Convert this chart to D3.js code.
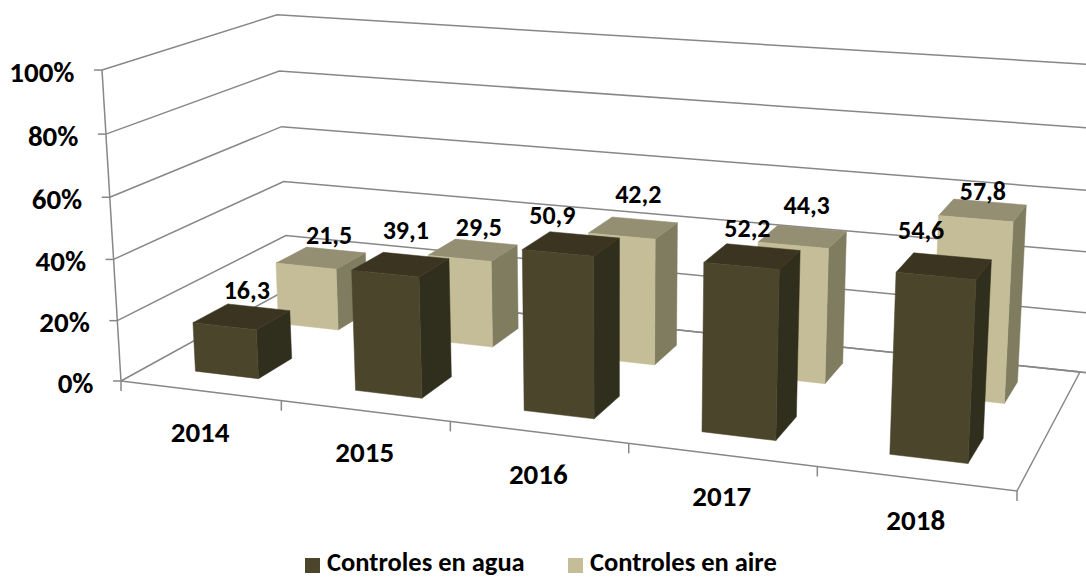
<!DOCTYPE html>
<html><head><meta charset="utf-8">
<script src="https://cdn.jsdelivr.net/npm/d3@7"></script>
<style>html,body{margin:0;padding:0;background:#fff}svg{display:block}text{font-family:Carlito,Lato,"Open Sans",sans-serif;font-weight:700;fill:#000}</style>
</head><body><svg id="c" width="1086" height="577"></svg>
<script>
const years = ["2014","2015","2016","2017","2018"];
const seriesNames = ["Controles en agua","Controles en aire"];
const agua = [16.3,39.1,50.9,52.2,54.6];
const aire = [21.5,29.5,42.2,44.3,57.8];
const yTicks = [0,20,40,60,80,100];
const fmt = v => String(v.toFixed(1)).replace(".",",");

// Camera calibration: floor corners and vertical vanishing point
const FL=[121,381],FR=[1017,491],BR=[1080,372],BL=[288,289],VP=[615,8470],S=-0.03702;
const dx1=FR[0]-BR[0],dx2=BL[0]-BR[0],sx=FL[0]-FR[0]+BR[0]-BL[0];
const dy1=FR[1]-BR[1],dy2=BL[1]-BR[1],sy=FL[1]-FR[1]+BR[1]-BL[1];
const D=dx1*dy2-dx2*dy1;
const G=(sx*dy2-dx2*sy)/D,H=(dx1*sy-sx*dy1)/D;
const A=FR[0]-FL[0]+G*FR[0],B=BL[0]-FL[0]+H*BL[0],C=FL[0];
const Dd=FR[1]-FL[1]+G*FR[1],E=BL[1]-FL[1]+H*BL[1],F=FL[1];
function proj(u,v,t){
  const k=t*S;
  const w=G*u+H*v+1+k;
  return [(A*u+B*v+C+k*VP[0])/w,(Dd*u+E*v+F+k*VP[1])/w];
}
const xScale=d3.scaleBand().domain(years).range([0,1]).paddingInner(0.6).paddingOuter(0.3);
const catScale=d3.scaleBand().domain(years).range([0,1]);
const depthScale=d3.scaleBand().domain(seriesNames).range([0,1]).paddingInner(0.6).paddingOuter(0.3);
const zScale=d3.scaleLinear().domain([0,100]).range([0,1]);
const line=d3.line();
const svg=d3.select("#c");
const gridColor="#878787";

// walls
const grid=svg.append("g").attr("fill","none").attr("stroke",gridColor).attr("stroke-width",1.5);
grid.selectAll("path.g").data(yTicks).join("path").attr("class","g")
  .attr("d",t=>{const z=zScale(t);return line([proj(0,0,z),proj(0,1,z),proj(1.02,1,z)]);});
grid.append("path").attr("d",line([proj(0,0,0),proj(0,0,1)]));
grid.append("path").attr("d",line([proj(0,0,0),proj(1,0,0),proj(1,1,0),proj(0,1,0)]));
grid.selectAll("path.yt").data(yTicks).join("path").attr("class","yt")
  .attr("d",t=>{const p=proj(0,0,zScale(t));return line([[p[0]-8,p[1]],p]);});
const xTicks=years.map(y=>catScale(y)).concat([1]);
grid.selectAll("path.xt").data(xTicks).join("path").attr("class","xt")
  .attr("d",u=>{const p=proj(u,0,0);return line([p,[p[0],p[1]+10]]);});

// bars
const palette={
 [seriesNames[0]]:{front:"#4b452c",top:"#3b3420",side:"#302e1c"},
 [seriesNames[1]]:{front:"#c4bd97",top:"#948f72",side:"#7f7c60"}
};
// hand placement of each value label relative to its bar top, as in the source chart
const aguaNudge=[[5,2],[5,-5],[-19,0],[-5,1],[-23,-7]];
const aireNudge=[[8,6],[6,6],[5,-5],[4,-3],[0,10]];
function bar(year,name,val,nudge){return {year,name,val,nudge};}
const barData=[
  ...years.map((y,i)=>bar(y,seriesNames[1],aire[i],aireNudge[i])),
  ...years.map((y,i)=>bar(y,seriesNames[0],agua[i],aguaNudge[i]))
];
const gb=svg.append("g").selectAll("g").data(barData).join("g");
function face(d,kind){
  const u0=xScale(d.year),u1=u0+xScale.bandwidth();
  const v0=depthScale(d.name),v1=v0+depthScale.bandwidth();
  const z=zScale(d.val);
  const q={front:[[u0,v0,0],[u1,v0,0],[u1,v0,z],[u0,v0,z]],
    side:[[u1,v0,0],[u1,v1,0],[u1,v1,z],[u1,v0,z]],
    top:[[u0,v0,z],[u1,v0,z],[u1,v1,z],[u0,v1,z]]}[kind];
  return line(q.map(p=>proj(...p)))+"Z";
}
["side","top","front"].forEach(kind=>{
  gb.append("path").attr("d",d=>face(d,kind))
    .attr("fill",d=>palette[d.name][kind]).attr("stroke",d=>palette[d.name][kind]).attr("stroke-width",0.5);
});

// value labels
const topCentre=d=>proj(xScale(d.year)+xScale.bandwidth()/2,depthScale(d.name)+depthScale.bandwidth()/2,zScale(d.val));
svg.append("g").selectAll("text").data(barData).join("text")
  .attr("text-anchor","middle").attr("font-size",26)
  .attr("x",d=>topCentre(d)[0]+d.nudge[0])
  .attr("y",d=>topCentre(d)[1]-20+d.nudge[1])
  .text(d=>fmt(d.val));

// axis labels
svg.append("g").selectAll("text").data(yTicks).join("text")
  .attr("text-anchor","end").attr("font-size",29)
  .attr("x",t=>proj(0,0,zScale(t))[0]-27.5)
  .attr("y",t=>proj(0,0,zScale(t))[1]+11.5)
  .text(t=>t+"%");
svg.append("g").selectAll("text").data(years).join("text")
  .attr("text-anchor","middle").attr("font-size",29)
  .attr("x",y=>proj(catScale(y)+catScale.bandwidth()/2,0,0)[0])
  .attr("y",y=>proj(catScale(y)+catScale.bandwidth()/2,0,0)[1]+51.5)
  .text(y=>y);

// legend
const legendX=d3.scaleOrdinal().domain(seriesNames).range([305,568]);
const lg=svg.append("g").selectAll("g").data(seriesNames).join("g")
  .attr("transform",d=>`translate(${legendX(d)},558)`);
lg.append("rect").attr("width",15).attr("height",15).attr("fill",d=>palette[d].front);
lg.append("text").attr("x",22).attr("y",13).attr("font-size",26.5).text(d=>d);
</script></body></html>
